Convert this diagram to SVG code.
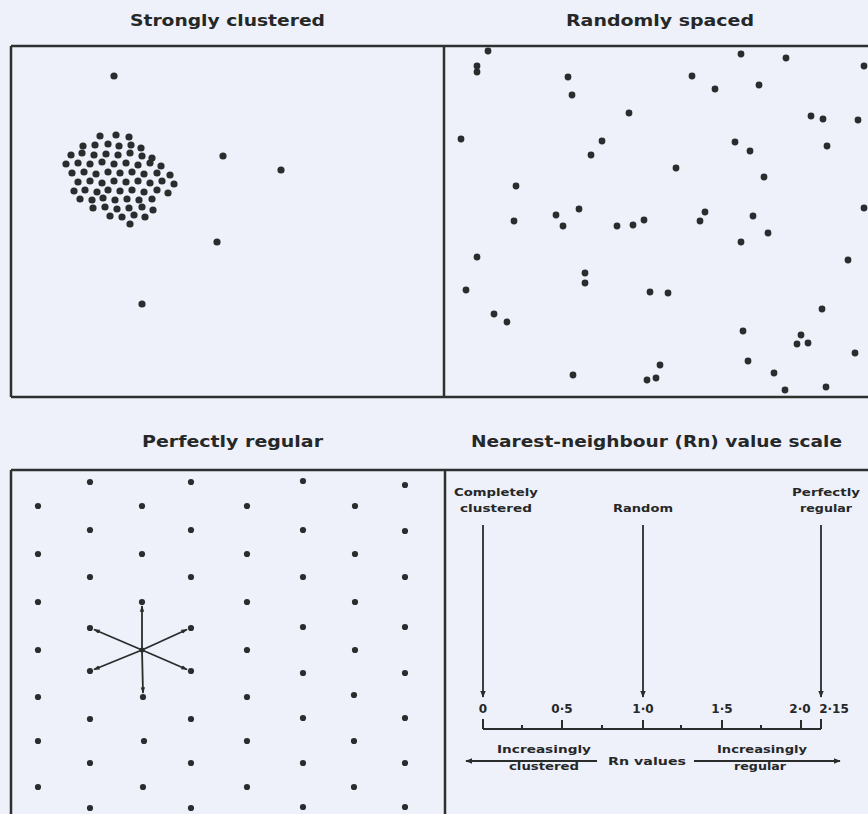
<svg xmlns="http://www.w3.org/2000/svg" width="868" height="814" viewBox="0 0 868 814">
<defs>
<style>
.bg{fill:#eef1fa}
.frame{stroke:#2e3030;stroke-width:2.5;fill:none}
.d{fill:#2a2d2e}
.c{fill:#2a2d2e}
.t{font-family:"DejaVu Sans","Liberation Sans",Arial,sans-serif;font-weight:bold;fill:#262828}
.title{font-size:16px}
.lab{font-size:10.5px;text-anchor:middle}
.num{font-size:12px;text-anchor:middle}
.ln{stroke:#2a2c2c;stroke-width:1.8;fill:none}
.ax{stroke:#2a2c2c;stroke-width:2;fill:none}
</style>
<marker id="ah" viewBox="0 0 10 10" refX="9" refY="5" markerWidth="4" markerHeight="4.5" orient="auto" markerUnits="strokeWidth">
<path d="M0,1 L10,5 L0,9 z" fill="#2a2c2c"/>
</marker>
<marker id="ahs" viewBox="0 0 10 10" refX="9" refY="5" markerWidth="3.5" markerHeight="3.5" orient="auto" markerUnits="strokeWidth">
<path d="M0,1.5 L10,5 L0,8.5 z" fill="#2a2c2c"/>
</marker>
</defs>
<rect class="bg" x="0" y="0" width="868" height="814"/>

<g id="frames">
<path class="frame" d="M11,46 H868 M11,397 H868 M11,46 V397 M444,46 V397"/>
<path class="frame" d="M11,470 H868 M11,470 V814 M445,470 V814"/>
</g>

<g id="panel-clustered">
<text class="t title" x="130" y="26" textLength="195" lengthAdjust="spacingAndGlyphs">Strongly clustered</text>
<g class="c">
<circle cx="114" cy="76" r="3.6"/><circle cx="223" cy="156" r="3.6"/><circle cx="281" cy="170" r="3.6"/><circle cx="217" cy="242" r="3.6"/><circle cx="142" cy="304" r="3.6"/>
<circle cx="100" cy="136" r="3.6"/><circle cx="116" cy="135" r="3.6"/><circle cx="129" cy="137" r="3.6"/>
<circle cx="83" cy="146" r="3.6"/><circle cx="95" cy="145" r="3.6"/><circle cx="108" cy="144" r="3.6"/><circle cx="119" cy="146" r="3.6"/><circle cx="131" cy="145" r="3.6"/><circle cx="141" cy="148" r="3.6"/>
<circle cx="71" cy="155" r="3.6"/><circle cx="82" cy="153" r="3.6"/><circle cx="94" cy="155" r="3.6"/><circle cx="106" cy="154" r="3.6"/><circle cx="118" cy="155" r="3.6"/><circle cx="130" cy="153" r="3.6"/><circle cx="142" cy="156" r="3.6"/><circle cx="152" cy="158" r="3.6"/>
<circle cx="66" cy="164" r="3.6"/><circle cx="78" cy="163" r="3.6"/><circle cx="90" cy="164" r="3.6"/><circle cx="102" cy="162" r="3.6"/><circle cx="114" cy="164" r="3.6"/><circle cx="126" cy="163" r="3.6"/><circle cx="138" cy="165" r="3.6"/><circle cx="150" cy="163" r="3.6"/><circle cx="161" cy="166" r="3.6"/>
<circle cx="72" cy="173" r="3.6"/><circle cx="84" cy="172" r="3.6"/><circle cx="96" cy="174" r="3.6"/><circle cx="108" cy="172" r="3.6"/><circle cx="120" cy="173" r="3.6"/><circle cx="132" cy="172" r="3.6"/><circle cx="144" cy="174" r="3.6"/><circle cx="157" cy="173" r="3.6"/><circle cx="170" cy="175" r="3.6"/>
<circle cx="78" cy="182" r="3.6"/><circle cx="90" cy="181" r="3.6"/><circle cx="102" cy="183" r="3.6"/><circle cx="114" cy="181" r="3.6"/><circle cx="126" cy="182" r="3.6"/><circle cx="138" cy="181" r="3.6"/><circle cx="150" cy="183" r="3.6"/><circle cx="162" cy="181" r="3.6"/><circle cx="174" cy="184" r="3.6"/>
<circle cx="74" cy="191" r="3.6"/><circle cx="85" cy="190" r="3.6"/><circle cx="97" cy="192" r="3.6"/><circle cx="108" cy="190" r="3.6"/><circle cx="120" cy="191" r="3.6"/><circle cx="132" cy="190" r="3.6"/><circle cx="144" cy="192" r="3.6"/><circle cx="157" cy="190" r="3.6"/><circle cx="168" cy="193" r="3.6"/>
<circle cx="80" cy="199" r="3.6"/><circle cx="92" cy="200" r="3.6"/><circle cx="103" cy="198" r="3.6"/><circle cx="115" cy="200" r="3.6"/><circle cx="127" cy="199" r="3.6"/><circle cx="139" cy="200" r="3.6"/><circle cx="152" cy="199" r="3.6"/>
<circle cx="93" cy="208" r="3.6"/><circle cx="105" cy="207" r="3.6"/><circle cx="117" cy="209" r="3.6"/><circle cx="129" cy="208" r="3.6"/><circle cx="142" cy="207" r="3.6"/><circle cx="153" cy="210" r="3.6"/>
<circle cx="110" cy="216" r="3.6"/><circle cx="122" cy="217" r="3.6"/><circle cx="134" cy="215" r="3.6"/><circle cx="145" cy="217" r="3.6"/>
<circle cx="130" cy="224" r="3.6"/>
</g>
</g>

<g id="panel-random">
<text class="t title" x="566" y="26" textLength="188" lengthAdjust="spacingAndGlyphs">Randomly spaced</text>
<g class="d">
<circle cx="488" cy="51" r="3.4"/><circle cx="477" cy="66" r="3.4"/><circle cx="477" cy="72" r="3.4"/><circle cx="568" cy="77" r="3.4"/><circle cx="572" cy="95" r="3.4"/>
<circle cx="741" cy="54" r="3.4"/><circle cx="786" cy="58" r="3.4"/><circle cx="864" cy="66" r="3.4"/><circle cx="692" cy="76" r="3.4"/><circle cx="715" cy="89" r="3.4"/><circle cx="759" cy="85" r="3.4"/>
<circle cx="629" cy="113" r="3.4"/><circle cx="811" cy="116" r="3.4"/><circle cx="823" cy="119" r="3.4"/><circle cx="858" cy="120" r="3.4"/>
<circle cx="461" cy="139" r="3.4"/><circle cx="602" cy="141" r="3.4"/><circle cx="591" cy="155" r="3.4"/><circle cx="735" cy="142" r="3.4"/><circle cx="750" cy="151" r="3.4"/><circle cx="827" cy="146" r="3.4"/>
<circle cx="676" cy="168" r="3.4"/><circle cx="764" cy="177" r="3.4"/><circle cx="516" cy="186" r="3.4"/><circle cx="864" cy="208" r="3.4"/>
<circle cx="579" cy="209" r="3.4"/><circle cx="556" cy="215" r="3.4"/><circle cx="563" cy="226" r="3.4"/><circle cx="514" cy="221" r="3.4"/><circle cx="617" cy="226" r="3.4"/><circle cx="633" cy="225" r="3.4"/><circle cx="644" cy="220" r="3.4"/>
<circle cx="705" cy="212" r="3.4"/><circle cx="700" cy="221" r="3.4"/><circle cx="753" cy="216" r="3.4"/><circle cx="768" cy="233" r="3.4"/><circle cx="741" cy="242" r="3.4"/>
<circle cx="477" cy="257" r="3.4"/><circle cx="848" cy="260" r="3.4"/><circle cx="585" cy="273" r="3.4"/><circle cx="585" cy="283" r="3.4"/><circle cx="466" cy="290" r="3.4"/><circle cx="650" cy="292" r="3.4"/><circle cx="668" cy="293" r="3.4"/>
<circle cx="494" cy="314" r="3.4"/><circle cx="507" cy="322" r="3.4"/><circle cx="822" cy="309" r="3.4"/><circle cx="743" cy="331" r="3.4"/>
<circle cx="801" cy="335" r="3.4"/><circle cx="797" cy="344" r="3.4"/><circle cx="808" cy="343" r="3.4"/><circle cx="855" cy="353" r="3.4"/><circle cx="748" cy="361" r="3.4"/>
<circle cx="660" cy="365" r="3.4"/><circle cx="647" cy="380" r="3.4"/><circle cx="656" cy="378" r="3.4"/><circle cx="573" cy="375" r="3.4"/><circle cx="774" cy="373" r="3.4"/><circle cx="785" cy="390" r="3.4"/><circle cx="826" cy="387" r="3.4"/>
</g>
</g>

<g id="panel-regular">
<text class="t title" x="142" y="447" textLength="181" lengthAdjust="spacingAndGlyphs">Perfectly regular</text>
<g class="d">
<circle cx="90" cy="482" r="3.1"/><circle cx="90" cy="530" r="3.1"/><circle cx="90" cy="577" r="3.1"/><circle cx="90" cy="628" r="3.1"/><circle cx="90" cy="671" r="3.1"/><circle cx="90" cy="719" r="3.1"/><circle cx="90" cy="763" r="3.1"/><circle cx="90" cy="808" r="3.1"/>
<circle cx="191" cy="482" r="3.1"/><circle cx="191" cy="530" r="3.1"/><circle cx="191" cy="577" r="3.1"/><circle cx="191" cy="628" r="3.1"/><circle cx="191" cy="671" r="3.1"/><circle cx="191" cy="719" r="3.1"/><circle cx="191" cy="763" r="3.1"/><circle cx="191" cy="808" r="3.1"/>
<circle cx="303" cy="481" r="3.1"/><circle cx="303" cy="530" r="3.1"/><circle cx="303" cy="577" r="3.1"/><circle cx="303" cy="627" r="3.1"/><circle cx="303" cy="673" r="3.1"/><circle cx="303" cy="718" r="3.1"/><circle cx="303" cy="763" r="3.1"/><circle cx="303" cy="807" r="3.1"/>
<circle cx="405" cy="485" r="3.1"/><circle cx="405" cy="531" r="3.1"/><circle cx="405" cy="577" r="3.1"/><circle cx="405" cy="627" r="3.1"/><circle cx="405" cy="673" r="3.1"/><circle cx="405" cy="718" r="3.1"/><circle cx="405" cy="763" r="3.1"/><circle cx="405" cy="807" r="3.1"/>
<circle cx="38" cy="506" r="3.1"/><circle cx="38" cy="554" r="3.1"/><circle cx="38" cy="602" r="3.1"/><circle cx="38" cy="650" r="3.1"/><circle cx="38" cy="697" r="3.1"/><circle cx="38" cy="741" r="3.1"/><circle cx="38" cy="787" r="3.1"/>
<circle cx="142" cy="506" r="3.1"/><circle cx="142" cy="554" r="3.1"/><circle cx="142" cy="602" r="3.1"/><circle cx="142" cy="650" r="2.5"/><circle cx="143" cy="697" r="3.1"/><circle cx="144" cy="741" r="3.1"/><circle cx="143" cy="787" r="3.1"/>
<circle cx="247" cy="506" r="3.1"/><circle cx="247" cy="554" r="3.1"/><circle cx="247" cy="602" r="3.1"/><circle cx="247" cy="650" r="3.1"/><circle cx="247" cy="697" r="3.1"/><circle cx="247" cy="741" r="3.1"/><circle cx="247" cy="787" r="3.1"/>
<circle cx="355" cy="506" r="3.1"/><circle cx="355" cy="554" r="3.1"/><circle cx="355" cy="602" r="3.1"/><circle cx="355" cy="650" r="3.1"/><circle cx="354" cy="695" r="3.1"/><circle cx="354" cy="741" r="3.1"/><circle cx="354" cy="787" r="3.1"/>
</g>
</g>

<g id="panel-scale">
<text class="t title" x="471" y="447" textLength="371" lengthAdjust="spacingAndGlyphs">Nearest-neighbour (Rn) value scale</text>
<text class="t lab" x="496" y="496" textLength="84" lengthAdjust="spacingAndGlyphs">Completely</text>
<text class="t lab" x="496" y="512" textLength="72" lengthAdjust="spacingAndGlyphs">clustered</text>
<text class="t lab" x="643" y="512" textLength="60" lengthAdjust="spacingAndGlyphs">Random</text>
<text class="t lab" x="826" y="496" textLength="68" lengthAdjust="spacingAndGlyphs">Perfectly</text>
<text class="t lab" x="826" y="512" textLength="52" lengthAdjust="spacingAndGlyphs">regular</text>
<text class="t num" x="483" y="713">0</text>
<text class="t num" x="562" y="713">0·5</text>
<text class="t num" x="643" y="713">1·0</text>
<text class="t num" x="722" y="713">1·5</text>
<text class="t num" x="800" y="713">2·0</text>
<text class="t num" x="834" y="713">2·15</text>
<path class="ax" d="M483,729 H821 M483,719 V729 M562,720 V729 M643,720 V729 M722,720 V729 M801,720 V729 M821,719 V729 M522,725 V729 M602,725 V729 M681,725 V729 M761,725 V729"/>
<text class="t lab" x="544" y="753" textLength="94" lengthAdjust="spacingAndGlyphs">Increasingly</text>
<text class="t lab" x="544" y="770" textLength="70" lengthAdjust="spacingAndGlyphs">clustered</text>
<text class="t lab" x="647" y="765" textLength="78" lengthAdjust="spacingAndGlyphs">Rn values</text>
<text class="t lab" x="762" y="753" textLength="90" lengthAdjust="spacingAndGlyphs">Increasingly</text>
<text class="t lab" x="760" y="770" textLength="52" lengthAdjust="spacingAndGlyphs">regular</text>
</g>

<g id="connectors">
<line class="ln" x1="483" y1="525" x2="483" y2="697" marker-end="url(#ah)"/>
<line class="ln" x1="643" y1="525" x2="643" y2="697" marker-end="url(#ah)"/>
<line class="ln" x1="821" y1="525" x2="821" y2="697" marker-end="url(#ah)"/>
<line class="ln" x1="597" y1="761" x2="466" y2="761" stroke-width="1.5" marker-end="url(#ah)"/>
<line class="ln" x1="694" y1="761" x2="840" y2="761" stroke-width="1.5" marker-end="url(#ah)"/>
<g id="star">
<line class="ln" x1="142" y1="650" x2="142" y2="606" stroke-width="1.6" marker-end="url(#ahs)"/>
<line class="ln" x1="142" y1="650" x2="143" y2="693" stroke-width="1.6" marker-end="url(#ahs)"/>
<line class="ln" x1="142" y1="650" x2="94" y2="629.5" stroke-width="1.6" marker-end="url(#ahs)"/>
<line class="ln" x1="142" y1="650" x2="94" y2="669.5" stroke-width="1.6" marker-end="url(#ahs)"/>
<line class="ln" x1="142" y1="650" x2="187" y2="629.5" stroke-width="1.6" marker-end="url(#ahs)"/>
<line class="ln" x1="142" y1="650" x2="187" y2="669.5" stroke-width="1.6" marker-end="url(#ahs)"/>
</g>
</g>
</svg>
